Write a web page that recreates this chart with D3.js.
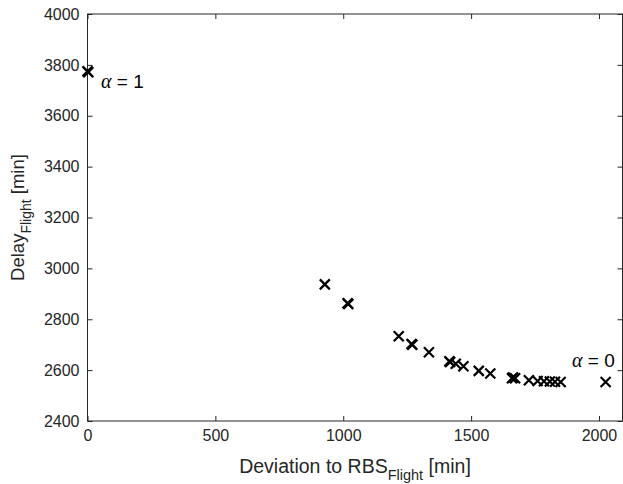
<!DOCTYPE html>
<html><head><meta charset="utf-8">
<script src="https://cdn.jsdelivr.net/npm/d3@7/dist/d3.min.js"></script>
<style>body{margin:0;background:#fff}svg{display:block}</style>
</head><body>
<script>
const deviation = [0, 3, 928, 1020, 1017, 1217, 1270, 1267, 1335, 1415, 1418, 1440, 1470, 1530, 1575, 1660, 1664, 1672, 1726, 1760, 1785, 1808, 1828, 1850, 2026];
const delay =     [3775, 3771, 2937, 2860, 2863, 2733, 2700, 2703, 2670, 2635, 2632, 2625, 2615, 2597, 2587, 2568, 2571, 2568, 2560, 2557, 2556, 2555, 2554, 2553, 2553];
const xTicks = [0, 500, 1000, 1500, 2000];
const yTicks = [2400, 2600, 2800, 3000, 3200, 3400, 3600, 3800, 4000];
const xLimits = [0, 2092];
const yLimits = [2400, 4000];

const W = 623, H = 484;
const L = 87.5, R = 622.5, T = 14, B = 421;
const axisColor = "#262626";
const svg = d3.select("body").append("svg").attr("width", W).attr("height", H);

const x = d3.scaleLinear().domain(xLimits).range([L, R]);
const y = d3.scaleLinear().domain(yLimits).range([B, T]);

const tl = 5;
const font = "'Liberation Sans', Arial, sans-serif";

svg.append("rect").attr("x", L).attr("y", T).attr("width", R - L).attr("height", B - T)
  .attr("fill", "none").attr("stroke", axisColor).attr("stroke-width", 1);

const xAxis = svg.append("g").attr("transform", `translate(0,${B})`)
  .call(d3.axisBottom(x).tickValues(xTicks).tickSizeInner(-tl).tickSizeOuter(0).tickPadding(9).tickFormat(d3.format("d")));
const xAxisTop = svg.append("g").attr("transform", `translate(0,${T})`)
  .call(d3.axisTop(x).tickValues(xTicks).tickSizeInner(-tl).tickSizeOuter(0).tickFormat(""));
const yAxis = svg.append("g").attr("transform", `translate(${L},0)`)
  .call(d3.axisLeft(y).tickValues(yTicks).tickSizeInner(-tl).tickSizeOuter(0).tickPadding(8).tickFormat(d3.format("d")));
const yAxisR = svg.append("g").attr("transform", `translate(${R},0)`)
  .call(d3.axisRight(y).tickValues(yTicks).tickSizeInner(-tl).tickSizeOuter(0).tickFormat(""));
[xAxis, xAxisTop, yAxis, yAxisR].forEach(g => {
  g.select(".domain").remove();
  g.selectAll(".tick line").attr("stroke", axisColor).attr("stroke-width", 1);
  g.selectAll(".tick text").attr("fill", axisColor).style("font-family", font).style("font-size", "16px");
});

const s = 5;
const pts = svg.append("g");
deviation.forEach((d, i) => {
  const cx = x(d), cy = y(delay[i]);
  pts.append("path")
    .attr("d", `M${cx - s},${cy - s}L${cx + s},${cy + s}M${cx - s},${cy + s}L${cx + s},${cy - s}`)
    .attr("stroke", "#000").attr("stroke-width", 2.2).attr("fill", "none");
});

function alphaLabel(px, py, val) {
  const t = svg.append("text").attr("x", px).attr("y", py).attr("fill", "#000")
    .style("font-family", font).style("font-size", "19px");
  t.append("tspan").text("α").style("font-family", "'Liberation Serif', 'DejaVu Serif', serif").style("font-style", "italic").style("font-size", "20px");
  t.append("tspan").text(" = " + val);
}
alphaLabel(101, 88, "1");
alphaLabel(572, 367, "0");

const xl = svg.append("text").attr("x", (L + R) / 2).attr("y", 473).attr("text-anchor", "middle")
  .attr("fill", axisColor).style("font-family", font).style("font-size", "19.5px");
xl.append("tspan").text("Deviation to RBS");
xl.append("tspan").text("Flight").attr("dy", 7).style("font-size", "14.5px");
xl.append("tspan").text(" [min]").attr("dy", -7);

const yl = svg.append("text").attr("transform", `translate(24,${(T + B) / 2}) rotate(-90)`).attr("text-anchor", "middle")
  .attr("fill", axisColor).style("font-family", font).style("font-size", "18.5px");
yl.append("tspan").text("Delay");
yl.append("tspan").text("Flight").attr("dy", 7).style("font-size", "14px");
yl.append("tspan").text(" [min]").attr("dy", -7);
</script>
</body></html>
